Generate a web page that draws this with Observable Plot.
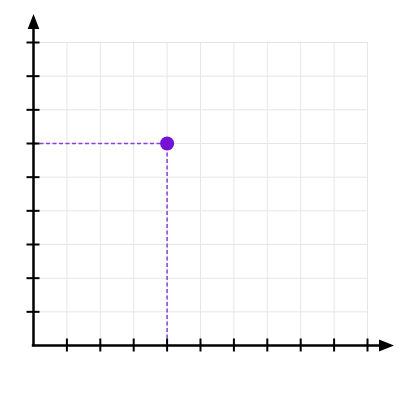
<!DOCTYPE html>
<html>
<head>
<meta charset="utf-8">
<script src="https://cdn.jsdelivr.net/npm/d3@7"></script>
<script src="https://cdn.jsdelivr.net/npm/@observablehq/plot@0.6"></script>
<style>
  html, body { margin: 0; padding: 0; background: #fff; }
</style>
</head>
<body>
<div id="chart"></div>
<script>
const xTicks = [1, 2, 3, 4, 5, 6, 7, 8, 9, 10];
const yTicks = [1, 2, 3, 4, 5, 6, 7, 8, 9];
const xMax = 10;
const yMax = 9;
const point = [{x: 4, y: 6}];

const arrowUp = {
  draw(ctx) {
    ctx.moveTo(0, -7.5);
    ctx.lineTo(5.8, 7.5);
    ctx.lineTo(-5.8, 7.5);
    ctx.closePath();
  }
};
const arrowRight = {
  draw(ctx) {
    ctx.moveTo(7.5, 0);
    ctx.lineTo(-7.5, 6);
    ctx.lineTo(-7.5, -6);
    ctx.closePath();
  }
};

const chart = Plot.plot({
  width: 400,
  height: 400,
  marginLeft: 33,
  marginRight: 33,
  marginTop: 42,
  marginBottom: 55,
  x: {domain: [0, xMax], axis: null},
  y: {domain: [0, yMax], axis: null},
  marks: [
    Plot.ruleX(xTicks, {x: d => d, y1: 0, y2: yMax, stroke: "#e6e6e6", strokeWidth: 1}),
    Plot.ruleY(yTicks, {y: d => d, x1: 0, x2: xMax, stroke: "#e6e6e6", strokeWidth: 1}),
    Plot.ruleY(point, {y: "y", x1: 0, x2: "x", stroke: "#8a3fd8", strokeWidth: 1.5, strokeDasharray: "4,2.5"}),
    Plot.ruleX(point, {x: "x", y1: 0, y2: "y", stroke: "#8a3fd8", strokeWidth: 1.5, strokeDasharray: "4,2.5"}),
    Plot.ruleX([0], {x: d => d, y1: yMax, y2: 0, stroke: "#000", strokeWidth: 2.5, insetTop: -20, insetBottom: -1.2}),
    Plot.ruleY([0], {y: d => d, x1: 0, x2: xMax, stroke: "#000", strokeWidth: 2.5, insetRight: -18, insetLeft: -1.2}),
    Plot.ruleY(yTicks, {y: d => d, x1: 0, x2: 0, insetLeft: -6.5, insetRight: -6.5, stroke: "#000", strokeWidth: 2}),
    Plot.ruleX(xTicks, {x: d => d, y1: 0, y2: 0, insetTop: -6.5, insetBottom: -6.5, stroke: "#000", strokeWidth: 2}),
    Plot.dot([0], {x: 0, y: yMax, dy: -21, symbol: arrowUp, fill: "#000", stroke: null, r: 5}),
    Plot.dot([0], {x: xMax, y: 0, dx: 19, symbol: arrowRight, fill: "#000", stroke: null, r: 5}),
    Plot.dot(point, {x: "x", y: "y", r: 7, fill: "#7412d6", stroke: null})
  ]
});
document.getElementById("chart").appendChild(chart);
</script>
</body>
</html>
